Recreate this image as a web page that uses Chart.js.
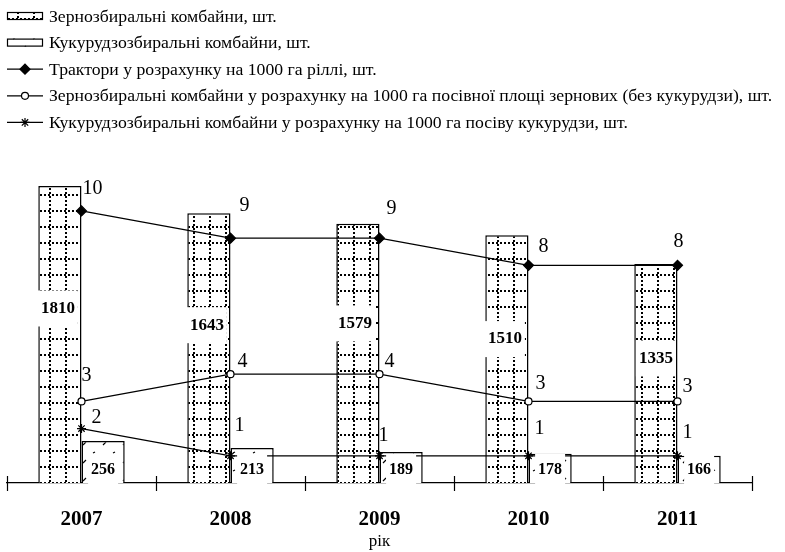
<!DOCTYPE html>
<html>
<head>
<meta charset="utf-8">
<script src="https://cdn.jsdelivr.net/npm/chart.js@4"></script>
<style>
  html, body { margin: 0; padding: 0; background: #fff; }
</style>
</head>
<body>
<canvas id="machineryChart" width="785" height="552"></canvas>
<script>
const years = ['2007', '2008', '2009', '2010', '2011'];
const grainCombines = [1810, 1643, 1579, 1510, 1335];
const cornCombines = [256, 213, 189, 178, 166];
const tractorsPer1000 = [10, 9, 9, 8, 8];
const grainCombinesPer1000 = [3, 4, 4, 3, 3];
const cornCombinesPer1000 = [2, 1, 1, 1, 1];

const serif = 'Liberation Serif';

// dotted grid fill for grain combines
function makeGrainPattern() {
    const c = document.createElement('canvas');
    c.width = 16;
    c.height = 16;
    const g = c.getContext('2d');
    g.fillStyle = '#fff';
    g.fillRect(0, 0, 16, 16);
    g.fillStyle = '#000';
    for (let i = 0; i < 16; i += 4) {
        g.fillRect(i, 2, 2, 2);
        g.fillRect(1, i, 2, 2);
    }
    return g.createPattern(c, 'repeat');
}

// sparse dashes for corn combines
function makeCornPattern() {
    const c = document.createElement('canvas');
    c.width = 20;
    c.height = 18;
    const g = c.getContext('2d');
    g.fillStyle = '#fff';
    g.fillRect(0, 0, 20, 18);
    g.strokeStyle = '#000';
    g.lineWidth = 1.2;
    g.beginPath();
    g.moveTo(3, 13);
    g.lineTo(6, 10);
    g.moveTo(13, 3);
    g.lineTo(15, 2);
    g.stroke();
    return g.createPattern(c, 'repeat');
}

const grainPattern = makeGrainPattern();
const cornPattern = makeCornPattern();

// value labels: boxed numbers on bars, plain numbers next to points
const valueLabels = {
    id: 'valueLabels',
    afterDatasetsDraw(chart) {
        const ctx = chart.ctx;
        const xScale = chart.scales.x;
        const area = chart.chartArea;

        // tick marks crossing the axis between years
        ctx.save();
        ctx.strokeStyle = '#000';
        ctx.lineWidth = 1.2;
        for (let i = 0; i <= years.length; i++) {
            const x = Math.round(xScale.getPixelForValue(i - 0.5)) + 0.5;
            ctx.beginPath();
            ctx.moveTo(x, area.bottom - 7);
            ctx.lineTo(x, area.bottom + 8);
            ctx.stroke();
        }
        ctx.restore();

        chart.data.datasets.forEach((ds, i) => {
            const meta = chart.getDatasetMeta(i);
            const st = ds.labelStyle;
            ctx.save();
            ctx.font = st.font;
            ctx.textAlign = 'center';
            ctx.textBaseline = 'middle';
            meta.data.forEach((el, j) => {
                const text = String(ds.data[j]);
                const off = st.offsets ? st.offsets[j] : [st.dx, st.dy];
                if (ds.type === 'bar') {
                    const p = el.getProps(['x', 'y', 'base'], true);
                    const cy = st.fromBase ? p.base - off[1] : (p.y + p.base) / 2 - off[1];
                    const cx = p.x + off[0];
                    const w = ctx.measureText(text).width + 6;
                    ctx.fillStyle = '#fff';
                    ctx.fillRect(cx - w / 2, cy - st.boxH / 2, w, st.boxH);
                    ctx.fillStyle = '#000';
                    ctx.fillText(text, cx, cy);
                } else {
                    ctx.fillStyle = '#000';
                    ctx.fillText(text, el.x + off[0], el.y + off[1]);
                }
            });
            ctx.restore();
        });
    }
};

// one legend entry per row, top left
const rowLegend = {
    id: 'rowLegend',
    afterDraw(chart) {
        const ctx = chart.ctx;
        ctx.save();
        chart.data.datasets.forEach((ds, i) => {
            const y = 16 + i * 26.6;
            ctx.strokeStyle = '#000';
            ctx.lineWidth = 1.2;
            if (ds.type === 'bar') {
                ctx.fillStyle = ds.backgroundColor;
                ctx.fillRect(7, y - 4, 36, 8);
                ctx.strokeRect(7.5, y - 3.5, 35, 7);
            } else {
                ctx.beginPath();
                ctx.moveTo(7, y);
                ctx.lineTo(43, y);
                ctx.stroke();
                ctx.fillStyle = ds.pointBackgroundColor;
                Chart.helpers.drawPoint(ctx, {
                    pointStyle: ds.pointStyle,
                    radius: ds.pointRadius,
                    borderWidth: ds.pointBorderWidth,
                    rotation: 0
                }, 25, y);
            }
            ctx.fillStyle = '#000';
            ctx.font = '17.7px "' + serif + '"';
            ctx.textAlign = 'left';
            ctx.textBaseline = 'middle';
            ctx.fillText(ds.label, 49, y + 1);
        });
        ctx.restore();
    }
};

const lineBase = {
    type: 'line',
    yAxisID: 'y2',
    borderColor: '#000',
    borderWidth: 1.2,
    pointBorderColor: '#000',
    pointBorderWidth: 1.2,
    fill: false,
    tension: 0,
    order: 1
};

const ctx = document.getElementById('machineryChart').getContext('2d');
new Chart(ctx, {
    data: {
        labels: years,
        datasets: [
            {
                type: 'bar',
                label: 'Зернозбиральні комбайни, шт.',
                data: grainCombines,
                yAxisID: 'y',
                backgroundColor: grainPattern,
                borderColor: '#000',
                borderWidth: 1.5,
                categoryPercentage: 0.58,
                barPercentage: 1.0,
                order: 2,
                labelStyle: {
                    font: 'bold 17px "' + serif + '"', boxH: 36, fromBase: false,
                    offsets: [[-2, 26], [-2, 23], [-3, 30], [-2, 20], [0, 15]]
                }
            },
            {
                type: 'bar',
                label: 'Кукурудзозбиральні комбайни, шт.',
                data: cornCombines,
                yAxisID: 'y',
                backgroundColor: cornPattern,
                borderColor: '#000',
                borderWidth: 1.5,
                categoryPercentage: 0.58,
                barPercentage: 1.0,
                order: 2,
                labelStyle: { font: 'bold 16px "' + serif + '"', dx: 0, dy: 13, boxH: 32, fromBase: true }
            },
            Object.assign({}, lineBase, {
                label: 'Трактори у розрахунку на 1000 га ріллі, шт.',
                data: tractorsPer1000,
                pointStyle: 'rectRot',
                pointRadius: 5,
                pointBackgroundColor: '#000',
                labelStyle: {
                    font: '20px "' + serif + '"',
                    offsets: [[11, -22], [14, -32], [12, -29], [15, -19], [1, -24]]
                }
            }),
            Object.assign({}, lineBase, {
                label: 'Зернозбиральні комбайни у розрахунку на 1000 га посівної площі зернових (без кукурудзи), шт.',
                data: grainCombinesPer1000,
                pointStyle: 'circle',
                pointRadius: 3.5,
                pointBackgroundColor: '#fff',
                labelStyle: {
                    font: '20px "' + serif + '"',
                    offsets: [[5, -26], [12, -12], [10, -12], [12, -18], [10, -15]]
                }
            }),
            Object.assign({}, lineBase, {
                label: 'Кукурудзозбиральні комбайни у розрахунку на 1000 га посіву кукурудзи, шт.',
                data: cornCombinesPer1000,
                pointStyle: 'star',
                pointRadius: 4.5,
                pointBackgroundColor: '#000',
                labelStyle: {
                    font: '20px "' + serif + '"',
                    offsets: [[15, -11], [9, -30], [4, -20], [11, -27], [10, -23]]
                }
            })
        ]
    },
    options: {
        responsive: false,
        animation: false,
        layout: {
            padding: { top: 150, left: 7, right: 33, bottom: 0 }
        },
        plugins: {
            legend: { display: false },
            tooltip: { enabled: false }
        },
        scales: {
            x: {
                grid: { display: false, drawTicks: false },
                border: { display: true, color: '#000', width: 1.3 },
                ticks: {
                    color: '#000',
                    padding: 24,
                    font: { family: serif, size: 21, weight: 'bold' }
                },
                title: {
                    display: true,
                    text: 'рік',
                    color: '#000',
                    padding: { top: -24.6, bottom: 0 },
                    font: { family: serif, size: 17 }
                }
            },
            y: {
                display: false,
                min: 0,
                max: 2029
            },
            y2: {
                display: false,
                min: 0,
                max: 12.24
            }
        }
    },
    plugins: [valueLabels, rowLegend]
});
</script>
</body>
</html>
